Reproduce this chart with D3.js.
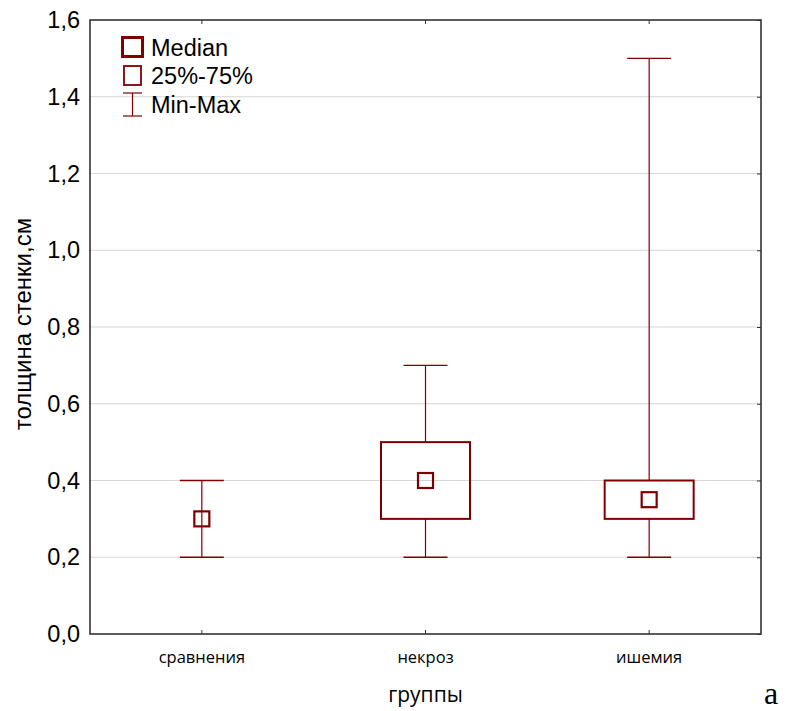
<!DOCTYPE html>
<html><head><meta charset="utf-8">
<script src="https://cdn.jsdelivr.net/npm/d3@7"></script>
<style>body{margin:0;background:#fff}</style>
</head><body>
<svg id="c" width="787" height="711"></svg>
<script>
const categories = ["сравнения", "некроз", "ишемия"];
const minVals = [0.2, 0.2, 0.2];
const q1Vals = [0.3, 0.3, 0.3];
const medianVals = [0.3, 0.4, 0.35];
const q3Vals = [0.3, 0.5, 0.4];
const maxVals = [0.4, 0.7, 1.5];
const yTicks = [0, 0.2, 0.4, 0.6, 0.8, 1.0, 1.2, 1.4, 1.6];

const svg = d3.select("#c");
const L = 90, R = 761, T = 20, B = 634;
const red = "#800000";
const x = d3.scaleBand().domain(categories).range([L, R]).padding(0);
const y = d3.scaleLinear().domain([0, 1.6]).range([B, T]);
const fmt = d => d3.format(".1f")(d).replace(".", ",");

// gridlines
svg.append("g").selectAll("line").data(yTicks.slice(1, -1)).join("line")
  .attr("x1", L).attr("x2", R).attr("y1", d => y(d)).attr("y2", d => y(d))
  .attr("stroke", "#d6d6d6").attr("stroke-width", 1);

// y axis labels
const ya = svg.append("g").attr("transform", `translate(${L},0)`)
  .call(d3.axisLeft(y).tickValues(yTicks).tickFormat(fmt).tickSize(0).tickPadding(10));
ya.select(".domain").remove();
ya.selectAll("text").attr("font-family", "Liberation Sans, Arial").attr("font-size", 23.5).attr("fill", "#000");

// inner ticks right
svg.append("g").attr("transform", `translate(${R},0)`)
  .call(d3.axisLeft(y).tickValues(yTicks).tickFormat("").tickSize(4))
  .call(g => g.select(".domain").remove())
  .selectAll("line").attr("stroke", "#333");

// x axis
const xa = svg.append("g").attr("transform", `translate(0,${B})`)
  .call(d3.axisBottom(x).tickSize(0).tickPadding(17));
xa.select(".domain").remove();
xa.selectAll("text").attr("font-family", "Open Sans").attr("font-size", 16.5).attr("fill", "#000");
svg.append("g").attr("transform", `translate(0,${B})`)
  .call(d3.axisTop(x).tickSize(4).tickFormat(""))
  .call(g => g.select(".domain").remove())
  .selectAll("line").attr("stroke", "#333");
svg.append("g").attr("transform", `translate(0,${T})`)
  .call(d3.axisBottom(x).tickSize(4).tickFormat(""))
  .call(g => g.select(".domain").remove())
  .selectAll("line").attr("stroke", "#333");

// frame
svg.append("rect").attr("x", L).attr("y", T).attr("width", R - L).attr("height", B - T)
  .attr("fill", "none").attr("stroke", "#333").attr("stroke-width", 1.6);

// boxes
const data = categories.map((c, i) => ({c, min: minVals[i], q1: q1Vals[i], med: medianVals[i], q3: q3Vals[i], max: maxVals[i]}));
const g = svg.append("g");
const cx = d => x(d.c) + x.bandwidth() / 2;
const boxW = 89, capW = 44, medS = 15;
data.forEach(d => {
  const gx = cx(d);
  g.append("line").attr("x1", gx).attr("x2", gx).attr("y1", y(d.min)).attr("y2", y(d.q1)).attr("stroke", red).attr("stroke-width", 1.2);
  g.append("line").attr("x1", gx).attr("x2", gx).attr("y1", y(d.q3)).attr("y2", y(d.max)).attr("stroke", red).attr("stroke-width", 1.2);
  [d.min, d.max].forEach(v => g.append("line").attr("x1", gx - capW / 2).attr("x2", gx + capW / 2)
    .attr("y1", y(v)).attr("y2", y(v)).attr("stroke", red).attr("stroke-width", 1.4));
  if (d.q3 > d.q1) {
    g.append("rect").attr("x", gx - boxW / 2).attr("y", y(d.q3)).attr("width", boxW).attr("height", y(d.q1) - y(d.q3))
      .attr("fill", "none").attr("stroke", red).attr("stroke-width", 2);
  }
  g.append("rect").attr("x", gx - medS / 2).attr("y", y(d.med) - medS / 2).attr("width", medS).attr("height", medS)
    .attr("fill", "none").attr("stroke", red).attr("stroke-width", 2.2);
});

// legend
const lg = svg.append("g");
lg.append("rect").attr("x", 122.5).attr("y", 37.5).attr("width", 20).attr("height", 19).attr("fill", "none").attr("stroke", red).attr("stroke-width", 3);
lg.append("rect").attr("x", 124).attr("y", 66).attr("width", 17).attr("height", 19).attr("fill", "none").attr("stroke", red).attr("stroke-width", 1.8);
lg.append("line").attr("x1", 132.5).attr("x2", 132.5).attr("y1", 93).attr("y2", 116).attr("stroke", red).attr("stroke-width", 1.2);
lg.append("line").attr("x1", 123).attr("x2", 142).attr("y1", 93).attr("y2", 93).attr("stroke", red).attr("stroke-width", 1.2);
lg.append("line").attr("x1", 123).attr("x2", 142).attr("y1", 116).attr("y2", 116).attr("stroke", red).attr("stroke-width", 1.2);
[["Median", 56], ["25%-75%", 84], ["Min-Max", 113]].forEach(([t, yy]) =>
  lg.append("text").attr("x", 151).attr("y", yy).text(t).attr("font-family", "Liberation Sans, Arial").attr("font-size", 23.5).attr("fill", "#000"));

// axis titles
svg.append("text").attr("transform", `translate(31,324) rotate(-90)`).attr("text-anchor", "middle")
  .attr("font-family", "Liberation Serif, Liberation Sans, Arial").attr("font-family", "Liberation Sans, Arial").attr("font-size", 24).text("толщина стенки,см");
svg.append("text").attr("x", (L + R) / 2).attr("y", 702).attr("text-anchor", "middle")
  .attr("font-family", "Open Sans").attr("font-size", 21).text("группы");
svg.append("text").attr("x", 771).attr("y", 704).attr("text-anchor", "middle")
  .attr("font-family", "Liberation Serif").attr("font-size", 32).text("a");
</script>
</body></html>
